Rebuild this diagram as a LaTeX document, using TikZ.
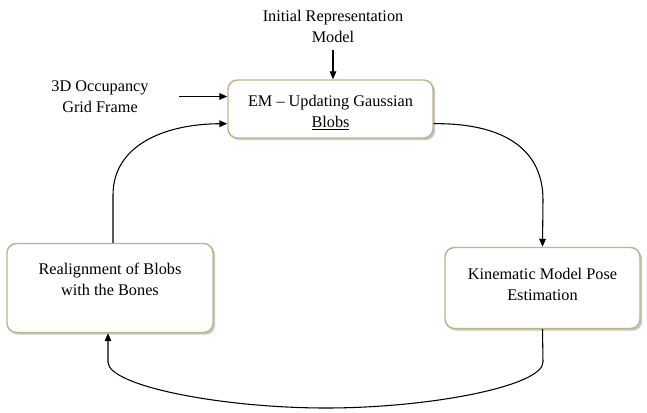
\documentclass[tikz,border=0pt]{standalone}
\usepackage{fontspec}
\setmainfont{Liberation Serif}
\usepackage{xcolor}
\usetikzlibrary{arrows.meta,shadows}
\definecolor{edge}{HTML}{BFB38A}
\definecolor{ink}{HTML}{000000}
\newdimen\px \px=0.75pt
\tikzset{
  blk/.style={draw=edge, line width=1.1pt, rounded corners=7pt, fill=white,
    drop shadow={shadow xshift=1.6pt, shadow yshift=-1.6pt, opacity=0.45}},
  lab/.style={text=ink, align=center, inner sep=0pt,
    font=\fontsize{12.2}{15.8}\selectfont},
  arr/.style={draw=ink, line width=0.8pt, -{Triangle[length=6pt,width=5pt]}},
}
\begin{document}
\begin{tikzpicture}[x=0.75pt,y=-0.75pt]
  \useasboundingbox (0,0) rectangle (647,412);

  % boxes
  \node[blk, minimum width=205\px, minimum height=58\px] (em) at (330.5,109) {};
  \node[blk, minimum width=206\px, minimum height=89\px] (realign) at (110,288) {};
  \node[blk, minimum width=195\px, minimum height=81\px] (kinem) at (542.5,288) {};

  \node[lab] (emtxt) at (330.5,112.5) {EM -- Updating Gaussian\\\underline{Blobs}};
  \node[lab] (realigntxt) at (110,279) {Realignment of Blobs\\with the Bones};
  \node[lab] (kinemtxt) at (542.5,284) {Kinematic Model Pose\\Estimation};

  % inputs
  \node[lab] (init) at (333,26.5) {Initial Representation\\Model};
  \node[lab] (grid) at (100,96.5) {3D Occupancy\\Grid Frame};

  \draw[arr] ([yshift=-5pt]init.south) -- (init.south |- em.north);
  \draw[arr] ([xshift=23pt]grid.east) -- (grid.east -| em.west);

  % loop
  \coordinate (emin) at ([yshift=-11pt]em.west);
  \coordinate (emout) at ([yshift=-11pt]em.east);
  \draw[arr] (emout) .. controls (505,123) and (543,150) .. (543,200) -- (kinem.north);
  \draw[arr] (kinem.south) -- (543,362)
    .. controls (543,386) and (430,408) .. (326,408)
    .. controls (222,408) and (108,386) .. (108,362) -- (realign.south -| 108,0);
  \draw[arr] (realign.north -| 113,0) -- (113,195) .. controls (113,145) and (165,124) .. (emin);
\end{tikzpicture}
\end{document}
